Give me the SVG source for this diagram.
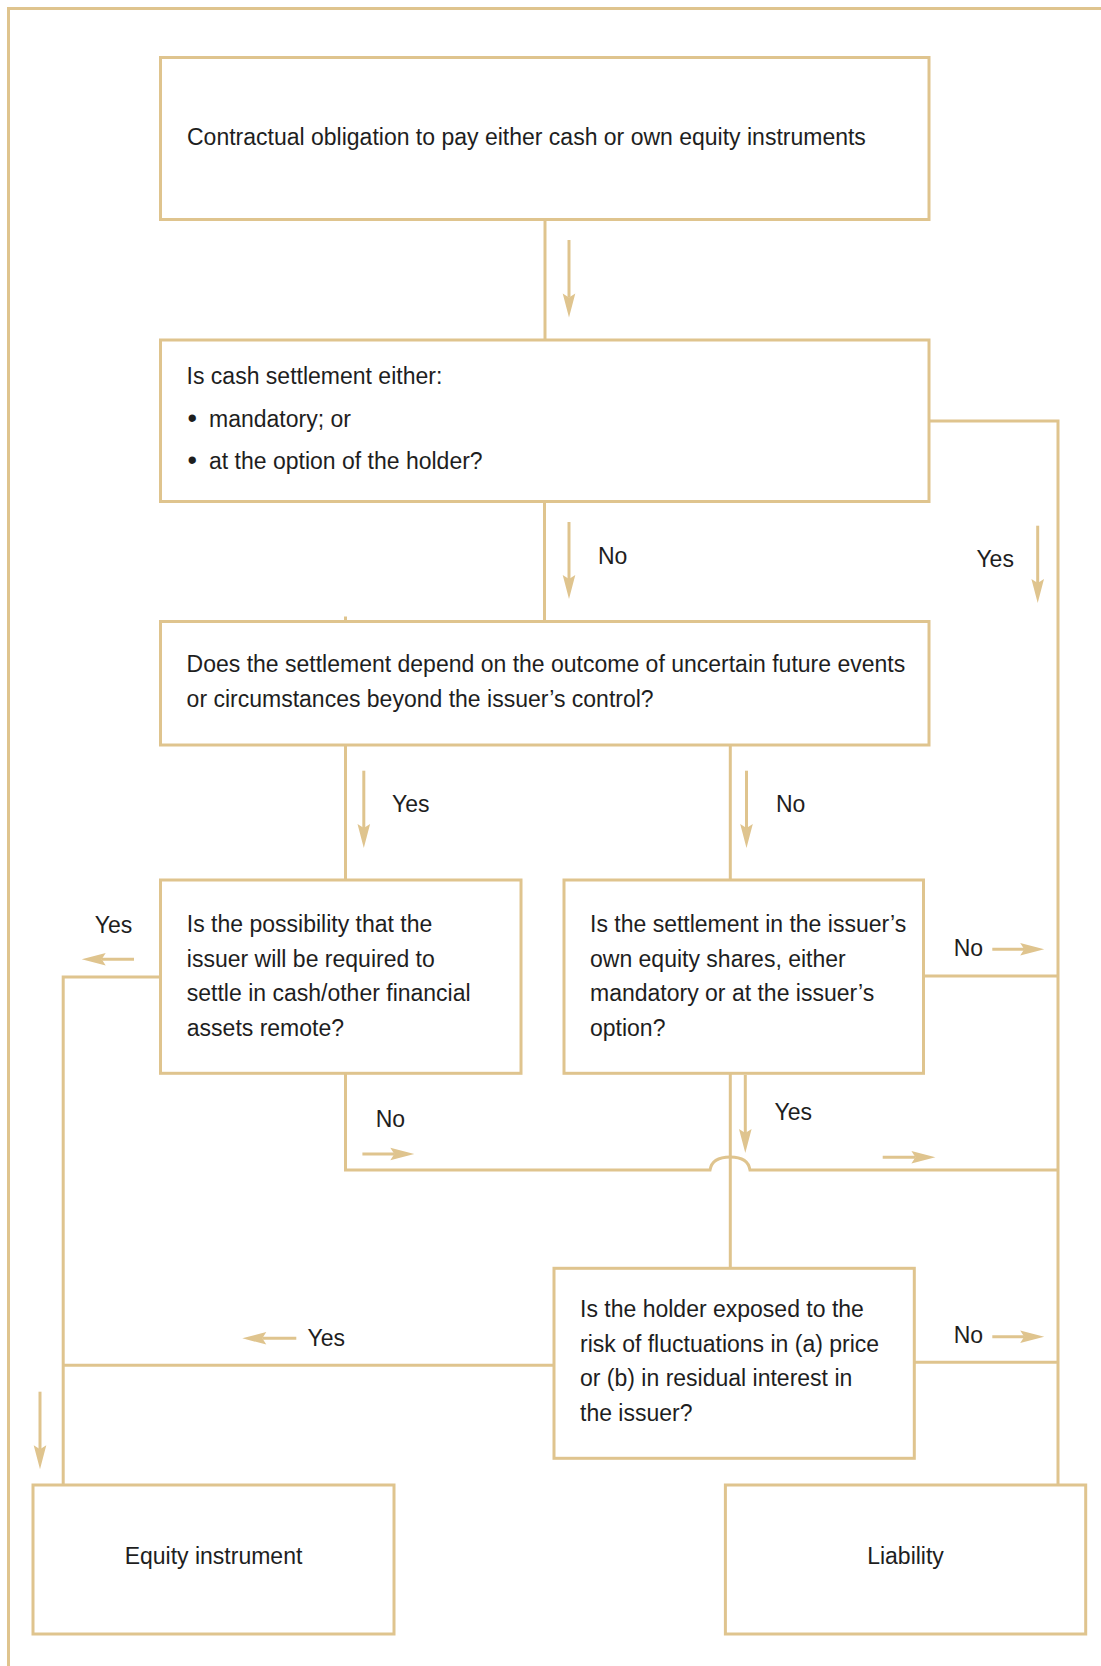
<svg xmlns="http://www.w3.org/2000/svg" width="1101" height="1666" viewBox="0 0 1101 1666">
<style>
.box{fill:#ffffff;stroke:#dfc48e;stroke-width:3}
.ln{fill:none;stroke:#dfc48e;stroke-width:3}
.ar{fill:none;stroke:#dfc48e;stroke-width:3;marker-end:url(#ah)}
text{font-family:"Liberation Sans",Arial,sans-serif;font-size:23px;fill:#1e1e1e}
.c{text-anchor:middle}
.bul{font-size:27px}
</style>
<defs>
<marker id="ah" markerUnits="userSpaceOnUse" viewBox="-25 -8 26 16" markerWidth="26" markerHeight="16" refX="-20" refY="0" orient="auto">
<path d="M-24,-6.3 L0,0 L-24,6.3 L-20,0 Z" fill="#dfc48e"/>
</marker>
</defs>
<rect width="1101" height="1666" fill="#ffffff"/>
<g id="connectors">
<path class="ln" d="M8.5,1666 V8.5 H1101"/>
<path class="ln" d="M545,219.5 V340"/>
<path class="ln" d="M929,421 H1058 V1485"/>
<path class="ln" d="M544.5,501.5 V621.5"/>
<path class="ln" d="M345.5,616.5 V621.5"/>
<path class="ln" d="M345.5,745 V880"/>
<path class="ln" d="M730.3,745 V880"/>
<path class="ln" d="M160.5,977 H63.2 V1485"/>
<path class="ln" d="M923.5,976 H1058"/>
<path class="ln" d="M345.5,1073.3 V1170 H710 Q712,1157 730.3,1157 Q748,1157 750,1170 H1058"/>
<path class="ln" d="M730.3,1073.3 V1268.3"/>
<path class="ln" d="M554,1365.3 H63.2"/>
<path class="ln" d="M914.3,1362.3 H1058"/>
<line class="ar" x1="569" y1="240" x2="569" y2="297.5"/>
<line class="ar" x1="569" y1="522" x2="569" y2="579"/>
<line class="ar" x1="1037.7" y1="525.7" x2="1037.7" y2="583"/>
<line class="ar" x1="363.8" y1="770.7" x2="363.8" y2="828"/>
<line class="ar" x1="746.5" y1="770.7" x2="746.5" y2="828"/>
<line class="ar" x1="134" y1="959.3" x2="101.7" y2="959.3"/>
<line class="ar" x1="992.3" y1="949.3" x2="1024.2" y2="949.3"/>
<line class="ar" x1="362.4" y1="1154" x2="394.3" y2="1154"/>
<line class="ar" x1="745.3" y1="1075" x2="745.3" y2="1133"/>
<line class="ar" x1="882.7" y1="1157.3" x2="915.4" y2="1157.3"/>
<line class="ar" x1="296.3" y1="1338.3" x2="262.3" y2="1338.3"/>
<line class="ar" x1="992.3" y1="1336.7" x2="1024.2" y2="1336.7"/>
<line class="ar" x1="40" y1="1391.7" x2="40" y2="1449.3"/>
<text x="598" y="564">No</text>
<text x="976.4" y="566.7">Yes</text>
<text x="392" y="811.7">Yes</text>
<text x="776" y="811.7">No</text>
<text x="94.8" y="933">Yes</text>
<text x="953.7" y="956">No</text>
<text x="375.7" y="1127">No</text>
<text x="774.6" y="1120">Yes</text>
<text x="307.6" y="1345.7">Yes</text>
<text x="953.7" y="1343.3">No</text>
</g>
<g id="n1">
<rect class="box" x="160.5" y="57.5" width="768.5" height="162"/>
<text x="187" y="144.5">Contractual obligation to pay either cash or own equity instruments</text>
</g>
<g id="n2">
<rect class="box" x="160.5" y="340" width="768.5" height="161.5"/>
<text x="186.6" y="384">Is cash settlement either:</text>
<text y="427"><tspan class="bul" x="187.5">•</tspan><tspan x="209">mandatory; or</tspan></text>
<text y="469"><tspan class="bul" x="187.5">•</tspan><tspan x="209">at the option of the holder?</tspan></text>
</g>
<g id="n3">
<rect class="box" x="160.5" y="621.5" width="768.5" height="123.5"/>
<text x="186.6" y="672">Does the settlement depend on the outcome of uncertain future events</text>
<text x="186.6" y="707">or circumstances beyond the issuer’s control?</text>
</g>
<g id="n4">
<rect class="box" x="160.5" y="880" width="360.5" height="193.3"/>
<text x="186.8" y="932">Is the possibility that the</text>
<text x="186.8" y="966.5">issuer will be required to</text>
<text x="186.8" y="1001">settle in cash/other financial</text>
<text x="186.8" y="1035.5">assets remote?</text>
</g>
<g id="n5">
<rect class="box" x="564" y="880" width="359.5" height="193.3"/>
<text x="590" y="932">Is the settlement in the issuer’s</text>
<text x="590" y="966.5">own equity shares, either</text>
<text x="590" y="1001">mandatory or at the issuer’s</text>
<text x="590" y="1035.5">option?</text>
</g>
<g id="n6">
<rect class="box" x="554" y="1268.3" width="360.3" height="190"/>
<text x="580" y="1317">Is the holder exposed to the</text>
<text x="580" y="1351.5">risk of fluctuations in (a) price</text>
<text x="580" y="1386">or (b) in residual interest in</text>
<text x="580" y="1420.5">the issuer?</text>
</g>
<g id="n7">
<rect class="box" x="33" y="1485" width="361" height="149"/>
<text class="c" x="213.5" y="1564">Equity instrument</text>
</g>
<g id="n8">
<rect class="box" x="725.4" y="1485" width="360.3" height="149"/>
<text class="c" x="905.5" y="1564">Liability</text>
</g>
</svg>
